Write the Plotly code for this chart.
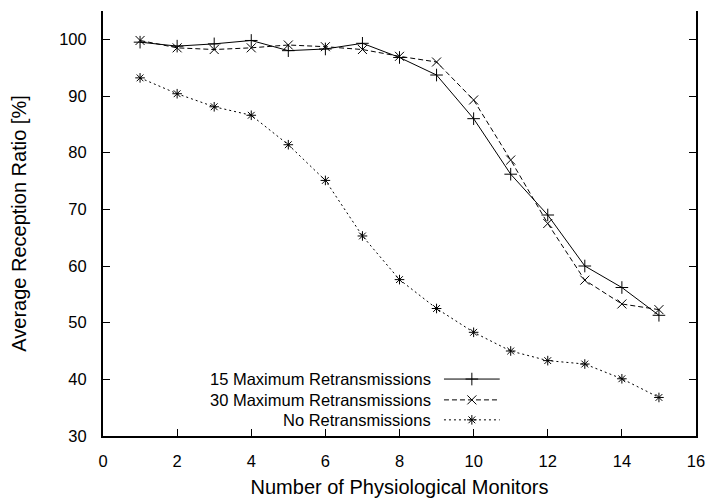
import plotly.graph_objects as go

# ---- data ----
monitors = list(range(1, 16))
retx15 = [99.5, 98.8, 99.2, 99.8, 98.0, 98.3, 99.3, 96.8, 93.7, 86.0, 76.2, 69.0, 60.0, 56.2, 51.3]
retx30 = [99.8, 98.5, 98.2, 98.5, 99.0, 98.7, 98.2, 97.0, 96.0, 89.3, 78.7, 67.5, 57.5, 53.3, 52.3]
noretx = [93.2, 90.4, 88.1, 86.6, 81.4, 75.1, 65.3, 57.6, 52.5, 48.3, 45.0, 43.3, 42.7, 40.1, 36.8]
series_names = ["15 Maximum Retransmissions", "30 Maximum Retransmissions", "No Retransmissions"]
x_ticks = [0, 2, 4, 6, 8, 10, 12, 14, 16]
y_ticks = [30, 40, 50, 60, 70, 80, 90, 100]
x_title = "Number of Physiological Monitors"
y_title = "Average Reception Ratio [%]"

FONT = "Arial"
FS = 16.5
styles = [
    dict(dash="solid", symbol="cross-thin-open", size=9),
    dict(dash="5px,3px", symbol="x-thin-open", size=9),
    dict(dash="2px,3px", symbol="asterisk-open", size=8),
]
series = [retx15, retx30, noretx]

fig = go.Figure()
for name, vals, st in zip(series_names, series, styles):
    fig.add_trace(go.Scatter(
        x=monitors, y=vals, mode="lines+markers", name=name,
        line=dict(color="black", width=1, dash=st["dash"]),
        marker=dict(symbol=st["symbol"], size=st["size"], color="black",
                    line=dict(color="black", width=1)),
        showlegend=False, cliponaxis=False,
    ))

# custom legend (text left, sample right) on a hidden unit axis
leg_rows = [0.134, 0.085, 0.038]
for name, st, ly in zip(series_names, styles, leg_rows):
    fig.add_trace(go.Scatter(
        x=[0.575, 0.669], y=[ly, ly], mode="lines", xaxis="x3", yaxis="y3",
        line=dict(color="black", width=1, dash=st["dash"]), showlegend=False,
        hoverinfo="skip"))
    fig.add_trace(go.Scatter(
        x=[0.622], y=[ly], mode="markers", xaxis="x3", yaxis="y3",
        marker=dict(symbol=st["symbol"], size=st["size"], color="black",
                    line=dict(color="black", width=1)),
        showlegend=False, hoverinfo="skip", cliponaxis=False))
    fig.add_annotation(text=name, xref="paper", yref="paper", x=0.557, y=ly,
                       xanchor="right", yanchor="middle", showarrow=False,
                       font=dict(family=FONT, size=FS, color="black"))

fig.update_layout(
    width=711, height=498,
    margin=dict(l=103, r=15, t=11, b=62, autoexpand=False),
    paper_bgcolor="white", plot_bgcolor="white",
    font=dict(family=FONT, size=FS, color="black"),
    xaxis=dict(range=[0, 16], tickvals=x_ticks, ticks="inside", ticklen=7,
               tickwidth=1, tickcolor="black", showline=True, linewidth=2,
               linecolor="black", showgrid=False, zeroline=False, automargin=False,
               title=dict(text=x_title, standoff=15), ticklabelstandoff=9),
    xaxis2=dict(range=[0, 16], tickvals=x_ticks, ticks="inside", ticklen=7,
                tickcolor="black", overlaying="x", side="top", showline=True,
                linewidth=1, linecolor="#888888", showticklabels=False,
                showgrid=False, zeroline=False, automargin=False),
    yaxis=dict(range=[30, 105], tickvals=y_ticks, ticks="inside", ticklen=7,
               tickwidth=1, tickcolor="black", showline=True, linewidth=2,
               linecolor="black", mirror="ticks", showgrid=False, zeroline=False,
               automargin=False,
               title=dict(text=y_title, standoff=27), ticklabelstandoff=11),
    xaxis3=dict(range=[0, 1], overlaying="x", visible=False),
    yaxis3=dict(range=[0, 1], overlaying="y", visible=False),
)
fig.write_html("out.html")
